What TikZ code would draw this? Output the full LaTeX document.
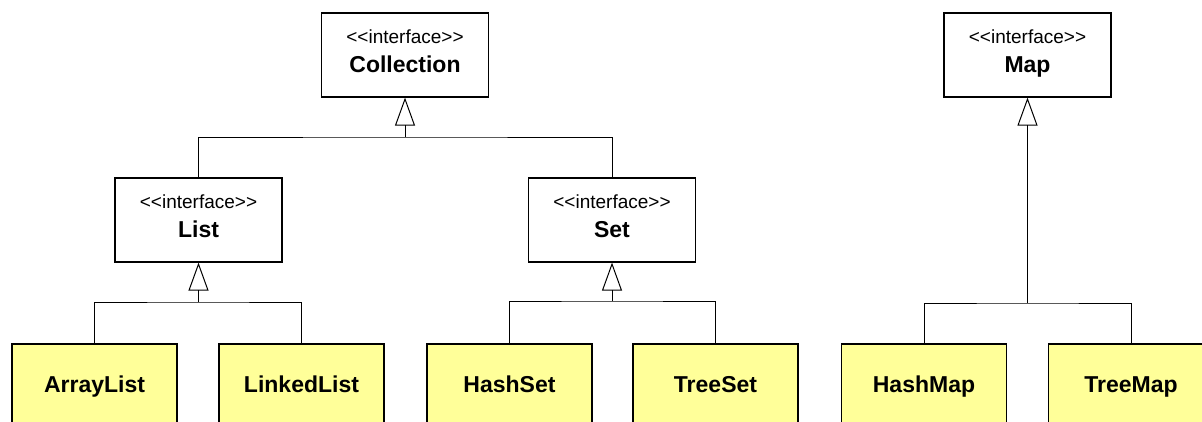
\documentclass[tikz,border=0pt]{standalone}
\usepackage{fontspec}
\setmainfont{Liberation Sans}
\usetikzlibrary{arrows.meta}
\definecolor{implfill}{HTML}{FFFF99}
% interface box: frame plus stereotype line and bold name
\newcommand{\ifacebox}[4]{%
  \node[iface] (#1) at (#2,#3) {};
  \node[stereo, anchor=base] (#1-s) at ([yshift=-31pt]#1.north) {<\kern0pt<interface>\kern0pt>};
  \node[ifname, anchor=base] (#1-n) at ([yshift=-60pt]#1.north) {#4};
}
\begin{document}
\begin{tikzpicture}[x=1pt, y=-1pt,
  iface/.style={draw, line width=1.2pt, minimum width=167pt, minimum height=84pt, inner sep=0pt},
  stereo/.style={inner sep=0pt, font=\fontsize{19}{22}\selectfont},
  ifname/.style={inner sep=0pt, font=\bfseries\fontsize{23}{27}\selectfont},
  impl/.style={draw, fill=implfill, line width=1.2pt, minimum width=165pt, minimum height=84pt,
    inner sep=0pt, text height=12pt, text depth=0pt, font=\bfseries\fontsize{23}{27}\selectfont},
  bar/.style={line width=1pt},
  inh/.style={line width=1pt, -{Triangle[open, length=28pt, width=20pt, line width=1pt]}}]
\useasboundingbox (0,0) rectangle (1202,421);
\clip (0,0) rectangle (1202,421);

% interfaces
\ifacebox{coll}{405}{55}{Collection}
\ifacebox{list}{198.5}{220}{List}
\ifacebox{set}{612}{220}{Set}
\ifacebox{map}{1027.5}{55}{Map}

% implementations
\node[impl] (al) at (94.5,386) {ArrayList};
\node[impl] (ll) at (301.5,386) {LinkedList};
\node[impl] (hs) at (509.5,386) {HashSet};
\node[impl] (ts) at (715.5,386) {TreeSet};
\node[impl] (hm) at (924,386) {HashMap};
\node[impl] (tm) at (1131,386) {TreeMap};

% junction points on the horizontal bars
\coordinate (jc) at (coll.south |- 0,137);
\coordinate (jl) at (list.south |- 0,302);
\coordinate (js) at (set.south |- 0,301);
\coordinate (jm) at (map.south |- 0,303);

% Collection <- List, Set
\draw[bar] (list.north) |- (jc) -| (set.north);
\draw[inh] (jc) -- (coll.south);
% List <- ArrayList, LinkedList
\draw[bar] (al.north) |- (jl) -| (ll.north);
\draw[inh] (jl) -- (list.south);
% Set <- HashSet, TreeSet
\draw[bar] (hs.north) |- (js) -| (ts.north);
\draw[inh] (js) -- (set.south);
% Map <- HashMap, TreeMap
\draw[bar] (hm.north) |- (jm) -| (tm.north);
\draw[inh] (jm) -- (map.south);
\end{tikzpicture}
\end{document}
